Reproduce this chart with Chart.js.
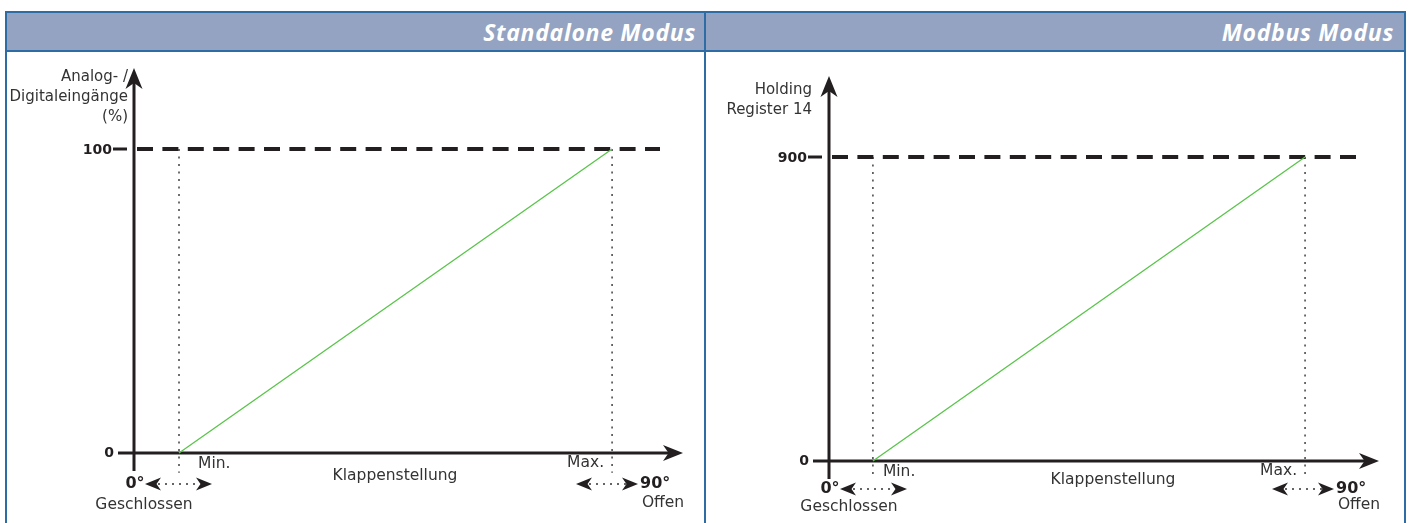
<!DOCTYPE html>
<html>
<head>
<meta charset="utf-8">
<script src="https://cdn.jsdelivr.net/npm/chart.js@4.4.1/dist/chart.umd.min.js"></script>
<style>
    body { margin: 0; background: #fff; width: 1408px; height: 523px; overflow: hidden; position: relative; }
    #frame { position: absolute; left: 5px; top: 11px; width: 1401px; height: 520px; box-sizing: border-box;
             border: 2px solid #2e6ca5; border-bottom: none; }
    .head { position: absolute; top: 13px; height: 37px; background: #94a3c2; border-bottom: 2px solid #2e6ca5;
            color: #fff; font: italic 700 23px 'Open Sans'; letter-spacing: 0.7px; line-height: 38px; text-align: right; box-sizing: content-box; }
    #headLeft { left: 7px; width: 689px; padding-right: 8px; }
    #headRight { left: 706px; width: 688px; padding-right: 10px; }
    #divider { position: absolute; left: 704px; top: 11px; width: 2px; height: 512px; background: #2e6ca5; }
    .panel { position: absolute; top: 52px; height: 471px; }
    .panel canvas { display: block; }
</style>
</head>
<body>
<div id="frame"></div>
<div class="head" id="headLeft">Standalone Modus</div>
<div class="head" id="headRight">Modbus Modus</div>
<div id="divider"></div>
<div class="panel" style="left:7px;width:697px"><canvas id="chartLeft" width="697" height="471"></canvas></div>
<div class="panel" style="left:706px;width:698px"><canvas id="chartRight" width="698" height="471"></canvas></div>

<script>
// data
const axisSpan = [0, 90]                 // Klappenstellung in Grad
const standaloneMinMax = [7.7, 81.8]     // Min. / Max. Klappenstellung
const modbusMinMax = [7.5, 81.3]
const standaloneRange = [0, 100]         // Eingang bei Min. / Max.
const modbusRange = [0, 900]
const standaloneTicks = ['0', '100']
const modbusTicks = ['0', '900']
const guideFloor = [-6.5, -54]           // wie weit die Hilfslinien unter die x-Achse gehen
const standaloneTitle = ['Analog- /', 'Digitaleingänge', '(%)']
const modbusTitle = ['Holding', 'Register 14']
const minMaxLabels = ['Min.', 'Max.']
const endLabels = ['0°', '90°']
const endNames = ['Geschlossen', 'Offen']
const xTitle = 'Klappenstellung'

const ink = '#231f20'
const txt = '#333333'
const green = '#58c449'

// stealth arrow head, tip at (x,y), pointing along (dx,dy)
function head(ctx, x, y, dx, dy, len, half) {
    const px = -dy, py = dx
    ctx.beginPath()
    ctx.moveTo(x, y)
    ctx.lineTo(x - dx * len + px * half, y - dy * len + py * half)
    ctx.lineTo(x - dx * len * 0.72, y - dy * len * 0.72)
    ctx.lineTo(x - dx * len - px * half, y - dy * len - py * half)
    ctx.closePath()
    ctx.fill()
}

function doubleArrow(ctx, x1, x2, y) {
    ctx.save()
    ctx.strokeStyle = txt
    ctx.lineWidth = 1.4
    ctx.setLineDash([2, 5])
    ctx.beginPath()
    ctx.moveTo(x1 + 13, y)
    ctx.lineTo(x2 - 12, y)
    ctx.stroke()
    ctx.restore()
    ctx.fillStyle = ink
    head(ctx, x1, y, -1, 0, 16, 6.5)
    head(ctx, x2, y, 1, 0, 16, 6.5)
}

const axesPlugin = {
    id: 'axes',
    beforeDatasetsDraw(chart, args, o) {
        const ctx = chart.ctx
        const x = chart.scales.x, y = chart.scales.y
        const ox = x.getPixelForValue(axisSpan[0])
        const xe = x.getPixelForValue(axisSpan[1])
        const oy = y.getPixelForValue(o.range[0])
        const ty = y.getPixelForValue(o.range[1])
        const L = o.layout
        ctx.save()

        // axes
        ctx.strokeStyle = ink
        ctx.fillStyle = ink
        ctx.lineWidth = 3
        ctx.beginPath()
        ctx.moveTo(ox, oy + 18); ctx.lineTo(ox, ty - 70)
        ctx.moveTo(ox - 16, oy); ctx.lineTo(xe + 12, oy)
        ctx.moveTo(ox - 21, ty); ctx.lineTo(ox - 7, ty)
        ctx.stroke()
        head(ctx, ox, ty - 81, 0, -1, 21, 8.5)
        head(ctx, xe + 23, oy, 1, 0, 20, 8)

        // tick labels
        ctx.font = 'bold 14px "DejaVu Sans"'
        ctx.textAlign = 'right'
        ctx.textBaseline = 'middle'
        ctx.fillText(o.ticks[1], ox - 22, ty + 1)
        ctx.fillText(o.ticks[0], ox - 20, oy)

        // y title
        ctx.fillStyle = txt
        ctx.font = '15px "DejaVu Sans"'
        o.title.forEach((t, i) => ctx.fillText(t, ox + L.titleDx, ty + L.titleDy + i * 20))

        // min / max
        ctx.font = '15.5px "DejaVu Sans"'
        ctx.textAlign = 'left'
        ctx.fillText(minMaxLabels[0], x.getPixelForValue(o.minMax[0]) + L.minDx, oy + 11)
        ctx.textAlign = 'right'
        ctx.fillText(minMaxLabels[1], x.getPixelForValue(o.minMax[1]) - 8, oy + 10)

        // x title
        ctx.textAlign = 'center'
        ctx.fillText(xTitle, ox + L.xTitleDx, oy + L.xTitleDy)

        // ends
        ctx.fillText(endNames[0], ox + L.closedDx, oy + L.nameDy)
        ctx.fillText(endNames[1], xe + 3, oy + L.nameDy - 2)
        ctx.fillStyle = ink
        ctx.font = 'bold 16px "DejaVu Sans"'
        ctx.fillText(endLabels[0], ox + 1, oy + L.endDy)
        ctx.textAlign = 'left'
        ctx.fillText(endLabels[1], xe - 20, oy + L.endDy)
        doubleArrow(ctx, ox + 11, ox + 78, oy + L.endDy)
        doubleArrow(ctx, xe - 84, xe - 22, oy + L.endDy)

        ctx.restore()
    }
}

function makeChart(id, minMax, range, floor, ticks, title, layout, padding) {
    const top = range[1]
    return new Chart(document.getElementById(id), {
        type: 'scatter',
        data: {
            datasets: [
                { // Kennlinie
                    data: [{ x: minMax[0], y: range[0] }, { x: minMax[1], y: range[1] }],
                    borderColor: green, borderWidth: 1.3
                },
                { // Obergrenze
                    data: [{ x: axisSpan[0], y: top }, { x: axisSpan[1], y: top }],
                    borderColor: ink, borderWidth: 3.8, borderDash: [16, 9.4], borderDashOffset: -3
                },
                { // Min.
                    data: [{ x: minMax[0], y: top }, { x: minMax[0], y: floor }],
                    borderColor: txt, borderWidth: 1.4, borderDash: [2, 5.5]
                },
                { // Max.
                    data: [{ x: minMax[1], y: top }, { x: minMax[1], y: floor }],
                    borderColor: txt, borderWidth: 1.4, borderDash: [2, 5.5]
                }
            ].map(d => Object.assign(d, { showLine: true, pointRadius: 0, clip: false }))
        },
        options: {
            responsive: false,
            animation: false,
            devicePixelRatio: 1,
            layout: { padding },
            scales: {
                x: { type: 'linear', min: axisSpan[0], max: axisSpan[1], display: false },
                y: { type: 'linear', min: range[0], max: range[1], display: false }
            },
            plugins: {
                legend: { display: false },
                tooltip: { enabled: false },
                axes: { range, ticks, title, minMax, layout }
            }
        },
        plugins: [axesPlugin]
    })
}

makeChart('chartLeft', standaloneMinMax, standaloneRange, guideFloor[0], standaloneTicks, standaloneTitle,
    { titleDx: -6, titleDy: -72, minDx: 19, xTitleDx: 261, xTitleDy: 23, closedDx: 10, nameDy: 52, endDy: 31 },
    { left: 127, right: 44, top: 97, bottom: 70 })

makeChart('chartRight', modbusMinMax, modbusRange, guideFloor[1], modbusTicks, modbusTitle,
    { titleDx: -17, titleDy: -67, minDx: 10, xTitleDx: 284, xTitleDy: 19, closedDx: 20, nameDy: 46, endDy: 28 },
    { left: 123, right: 48, top: 105, bottom: 62 })
</script>
</body>
</html>
